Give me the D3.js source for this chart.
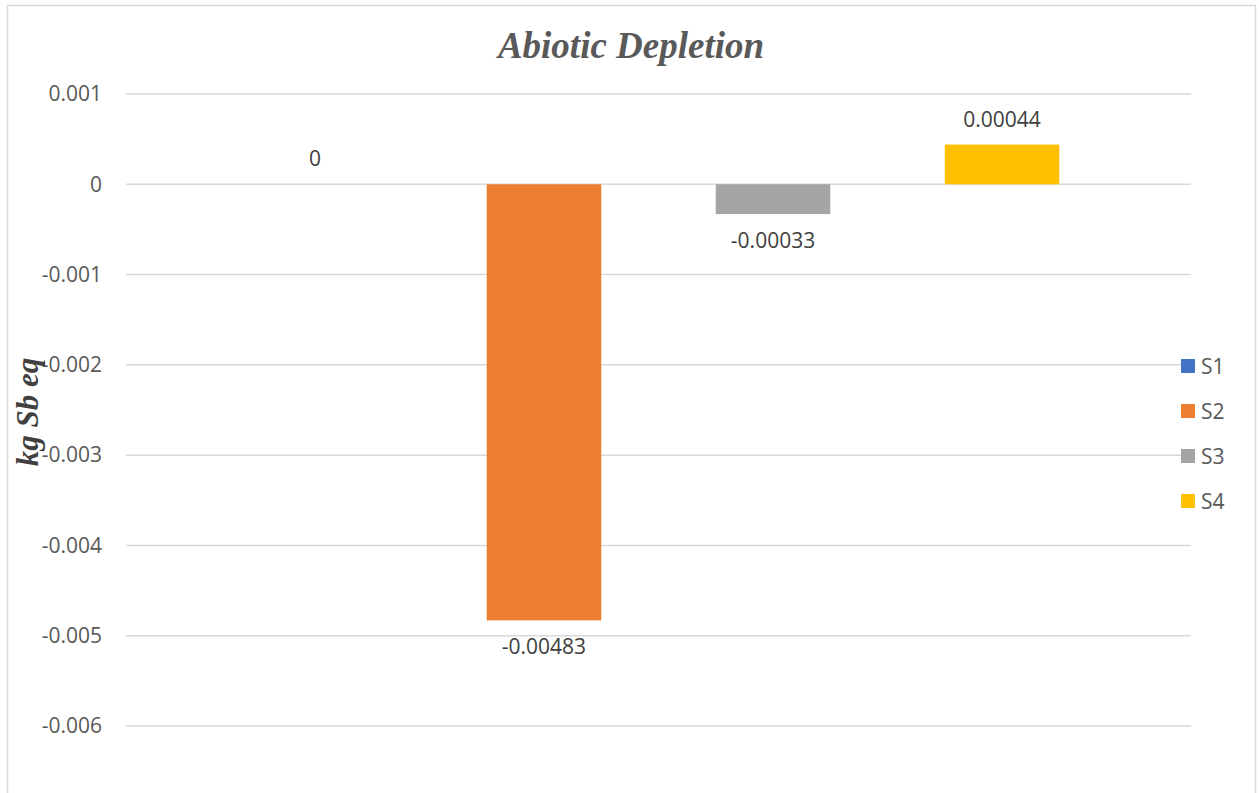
<!DOCTYPE html>
<html>
<head>
<meta charset="utf-8">
<script src="https://cdn.jsdelivr.net/npm/d3@7/dist/d3.min.js"></script>
<style>
  html, body { margin: 0; padding: 0; background: #ffffff; }
  svg { display: block; }
</style>
</head>
<body>
<svg id="chart" width="1259" height="793"></svg>
<script>
const titleText = "Abiotic Depletion";
const yAxisLabel = "kg Sb eq";
const seriesNames = ["S1", "S2", "S3", "S4"];
const seriesValues = [0, -0.00483, -0.00033, 0.00044];
const valueLabels = ["0", "-0.00483", "-0.00033", "0.00044"];
const seriesColors = ["#4472C4", "#ED7D31", "#A5A5A5", "#FFC000"];
const tickValues = [0.001, 0, -0.001, -0.002, -0.003, -0.004, -0.005, -0.006];
const tickLabels = ["0.001", "0", "-0.001", "-0.002", "-0.003", "-0.004", "-0.005", "-0.006"];

const svg = d3.select("#chart");

// chart border
svg.append("rect")
  .attr("x", 7.5).attr("y", 5.5)
  .attr("width", 1248).attr("height", 820)
  .attr("fill", "#ffffff")
  .attr("stroke", "#d9d9d9").attr("stroke-width", 1.5);

const plotLeft = 126, plotRight = 1191;
const y = d3.scaleLinear().domain([-0.006, 0.001]).range([726, 94]);
const x = d3.scaleBand().domain(seriesNames).range([plotLeft, plotRight])
  .paddingInner(0.5).paddingOuter(0.575);

// gridlines
svg.append("g").selectAll("line").data(tickValues).join("line")
  .attr("x1", plotLeft).attr("x2", plotRight)
  .attr("y1", d => y(d)).attr("y2", d => y(d))
  .attr("stroke", "#d9d9d9").attr("stroke-width", 1.5);

// tick labels via axis
const axis = d3.axisLeft(y).tickValues(tickValues)
  .tickFormat((d, i) => tickLabels[i]).tickSize(0).tickPadding(0);
const ag = svg.append("g").attr("transform", "translate(102,0)").call(axis);
ag.select(".domain").remove();
ag.selectAll("text")
  .attr("fill", "#595959")
  .style("font-family", "'Open Sans', sans-serif")
  .style("font-size", "21px");

// bars
const data = seriesNames.map((s, i) => ({ s, v: seriesValues[i], label: valueLabels[i], c: seriesColors[i] }));
svg.append("g").selectAll("rect").data(data).join("rect")
  .attr("x", d => x(d.s))
  .attr("width", x.bandwidth())
  .attr("y", d => Math.min(y(d.v), y(0)))
  .attr("height", d => Math.abs(y(d.v) - y(0)))
  .attr("fill", d => d.c);

// value labels
svg.append("g").selectAll("text").data(data).join("text")
  .attr("x", d => x(d.s) + x.bandwidth() / 2)
  .attr("y", d => d.v < 0 ? y(d.v) + 34 : y(d.v) - 18)
  .attr("text-anchor", "middle")
  .attr("fill", "#404040")
  .style("font-family", "'Open Sans', sans-serif")
  .style("font-size", "21px")
  .text(d => d.label);

// title
svg.append("text")
  .attr("x", 631).attr("y", 58)
  .attr("text-anchor", "middle")
  .attr("fill", "#595959")
  .style("font-family", "'Liberation Serif', 'Times New Roman', serif")
  .style("font-weight", "bold").style("font-style", "italic")
  .style("font-size", "37px")
  .text(titleText);

// y axis label
svg.append("text")
  .attr("transform", "translate(38,412) rotate(-90)")
  .attr("text-anchor", "middle")
  .attr("fill", "#404040")
  .style("font-family", "'Liberation Serif', 'Times New Roman', serif")
  .style("font-weight", "bold").style("font-style", "italic")
  .style("font-size", "31px")
  .text(yAxisLabel);

// legend
const lg = svg.append("g").selectAll("g").data(data).join("g")
  .attr("transform", (d, i) => `translate(1181,${359 + i * 45})`);
lg.append("rect").attr("width", 14).attr("height", 14).attr("fill", d => d.c);
lg.append("text")
  .attr("x", 20).attr("y", 7).attr("dy", "0.36em")
  .attr("fill", "#595959")
  .style("font-family", "'Open Sans', sans-serif")
  .style("font-size", "21px")
  .text(d => d.s);
</script>
</body>
</html>
